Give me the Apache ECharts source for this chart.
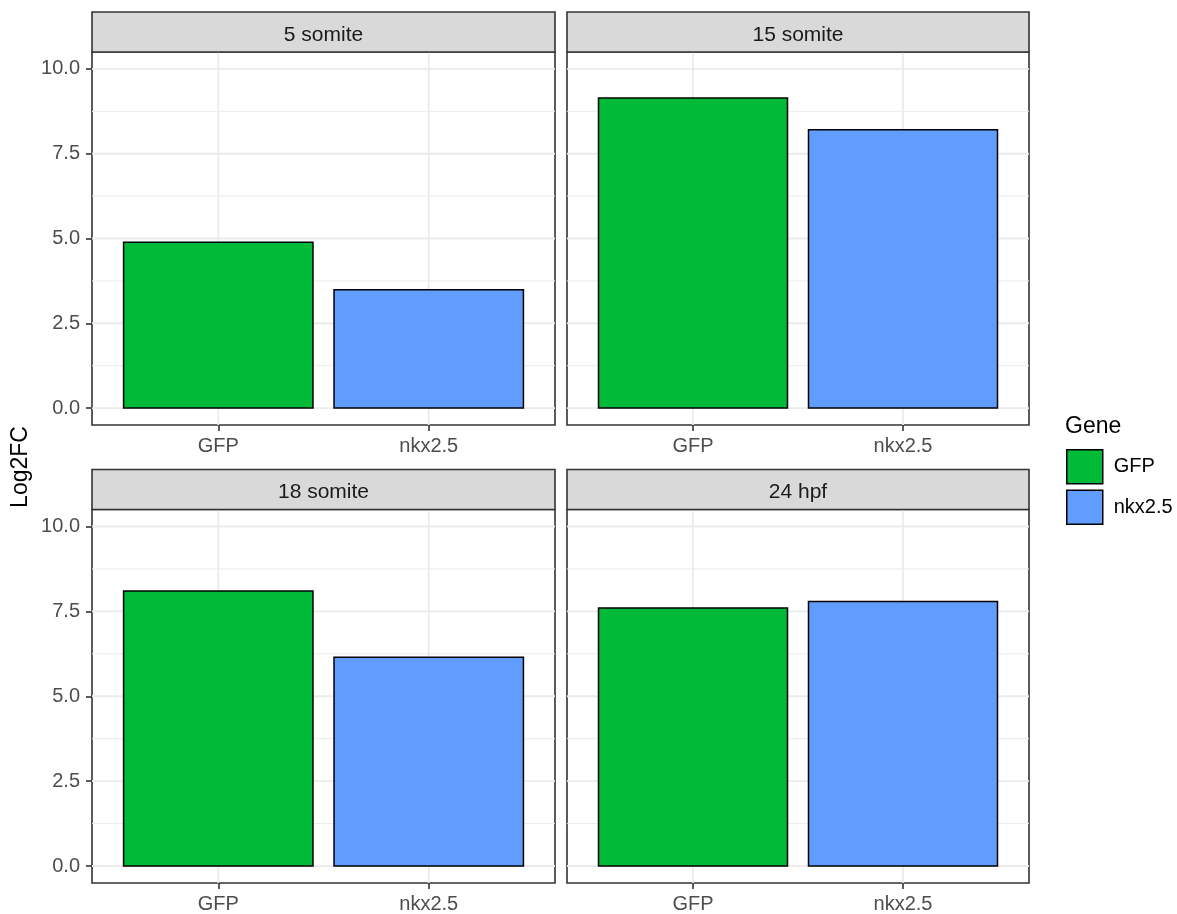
<!DOCTYPE html>
<html>
<head>
<meta charset="utf-8">
<title>Log2FC by stage</title>
<script src="https://cdn.jsdelivr.net/npm/echarts@6/dist/echarts.min.js"></script>
<style>
  html, body { margin: 0; padding: 0; background: #ffffff; }
  #chart { width: 1177px; height: 914px; }
</style>
</head>
<body>
<div id="chart"></div>
<script>
// Facet titles (one panel each) and the genes on the x axis
const stages = ['5 somite', '15 somite', '18 somite', '24 hpf'];
const genes = ['GFP', 'nkx2.5'];

// Log2 fold change per stage
const gfpValues = [4.89, 9.14, 8.10, 7.60];
const nkxValues = [3.49, 8.21, 6.15, 7.79];

// Axis breaks
const yMajorTicks = [0, 2.5, 5, 7.5, 10];
const yMinorTicks = [1.25, 3.75, 6.25, 8.75];
const xPositions = [1, 2];

const geneColors = { 'GFP': '#00BA38', 'nkx2.5': '#619CFF' };
const FONT = '"Liberation Sans", Arial, sans-serif';

// Panel layout (2 x 2 facets)
const panels = [
  { left: 92,  top: 52,    width: 463, height: 373 },
  { left: 567, top: 52,    width: 462, height: 373 },
  { left: 92,  top: 509.5, width: 463, height: 373.5 },
  { left: 567, top: 509.5, width: 462, height: 373.5 }
];
const STRIP_H = 40;
const BAR_HALF = 0.45;
const BORDER = '#333333';

const chart = echarts.init(document.getElementById('chart'), null, { renderer: 'canvas' });

const grids = [], xAxes = [], yAxes = [], series = [], graphics = [];

// Grid-line rows: [kind, value]; kind 0 = major horizontal, 1 = minor horizontal, 2 = vertical
const gridRows = []
  .concat(yMajorTicks.map(v => [0, v]))
  .concat(yMinorTicks.map(v => [1, v]))
  .concat(xPositions.map(v => [2, v]));

panels.forEach((p, i) => {
  const leftCol = i % 2 === 0;
  grids.push({
    left: p.left, top: p.top, width: p.width, height: p.height,
    show: true, borderColor: BORDER, borderWidth: 1.6, backgroundColor: '#ffffff',
    containLabel: false
  });
  xAxes.push({
    type: 'value', gridIndex: i, min: 0.4, max: 2.6, position: 'bottom',
    axisLine: { show: false, onZero: false },
    splitLine: { show: false },
    axisTick: { show: true, customValues: xPositions, length: 6, lineStyle: { color: BORDER, width: 1.6 } },
    axisLabel: {
      show: true, customValues: xPositions, margin: 11,
      formatter: v => genes[Math.round(v) - 1],
      fontSize: 20, color: '#4D4D4D', fontFamily: FONT
    }
  });
  yAxes.push({
    type: 'value', gridIndex: i, min: -0.5, max: 10.5, position: 'left',
    axisLine: { show: false, onZero: false },
    splitLine: { show: false },
    axisTick: { show: leftCol, customValues: yMajorTicks, length: 6, lineStyle: { color: BORDER, width: 1.6 } },
    axisLabel: {
      show: leftCol, customValues: yMajorTicks, margin: 12,
      formatter: v => Number(v).toFixed(1),
      fontSize: 20, color: '#4D4D4D', fontFamily: FONT
    }
  });

  // background grid lines
  series.push({
    type: 'custom', xAxisIndex: i, yAxisIndex: i, silent: true, z: 1,
    encode: { x: -1, y: -1 },
    data: gridRows,
    renderItem: (params, api) => {
      const kind = api.value(0), v = api.value(1);
      const cs = params.coordSys;
      if (kind === 2) {
        const x = api.coord([v, 0])[0];
        return { type: 'line', shape: { x1: x, y1: cs.y, x2: x, y2: cs.y + cs.height },
                 style: { stroke: '#EBEBEB', lineWidth: 1.8 } };
      }
      const y = api.coord([1, v])[1];
      return { type: 'line', shape: { x1: cs.x, y1: y, x2: cs.x + cs.width, y2: y },
               style: { stroke: '#EBEBEB', lineWidth: kind === 0 ? 1.8 : 1 } };
    }
  });

  // bars
  [['GFP', gfpValues[i], 1], ['nkx2.5', nkxValues[i], 2]].forEach(([name, val, pos]) => {
    series.push({
      type: 'custom', name: name, xAxisIndex: i, yAxisIndex: i, z: 3,
      itemStyle: { color: geneColors[name], borderColor: '#000', borderWidth: 1.5 },
      data: [[pos, val]],
      renderItem: (params, api) => {
        const x = api.value(0), y = api.value(1);
        const p0 = api.coord([x - BAR_HALF, 0]);
        const p1 = api.coord([x + BAR_HALF, y]);
        return {
          type: 'rect',
          shape: { x: p0[0], y: p1[1], width: p1[0] - p0[0], height: p0[1] - p1[1] },
          style: { fill: geneColors[name], stroke: '#000', lineWidth: 1.5 }
        };
      }
    });
  });

  // facet strip
  graphics.push({
    type: 'rect', z: 10,
    shape: { x: p.left, y: p.top - STRIP_H, width: p.width, height: STRIP_H },
    style: { fill: '#D9D9D9', stroke: BORDER, lineWidth: 1.6 }
  });
  graphics.push({
    type: 'text', z: 11,
    x: p.left + p.width / 2, y: p.top - STRIP_H / 2 + 3,
    style: { text: stages[i], fill: '#1A1A1A', font: '21px ' + FONT,
             textAlign: 'center', textVerticalAlign: 'middle' }
  });
});

// y-axis title
graphics.push({
  type: 'text', z: 11, x: 21, y: 467, rotation: Math.PI / 2,
  style: { text: 'Log2FC', fill: '#000', font: '23px ' + FONT,
           textAlign: 'center', textVerticalAlign: 'middle' }
});
// legend title
graphics.push({
  type: 'text', z: 11, x: 1065, y: 427,
  style: { text: 'Gene', fill: '#000', font: '23px ' + FONT,
           textAlign: 'left', textVerticalAlign: 'middle' }
});

chart.setOption({
  animation: false,
  backgroundColor: '#ffffff',
  grid: grids,
  xAxis: xAxes,
  yAxis: yAxes,
  series: series,
  legend: {
    orient: 'vertical', left: 1066, top: 449, padding: 0,
    itemWidth: 36, itemHeight: 34, itemGap: 5,
    selectedMode: false,
    icon: 'rect',
    data: genes.map(g => ({
      name: g,
      itemStyle: { color: geneColors[g], borderColor: '#000', borderWidth: 1.5 }
    })),
    textStyle: { fontSize: 20, color: '#000', fontFamily: FONT, padding: [0, 0, 0, 6] }
  },
  graphic: graphics
});
</script>
</body>
</html>
